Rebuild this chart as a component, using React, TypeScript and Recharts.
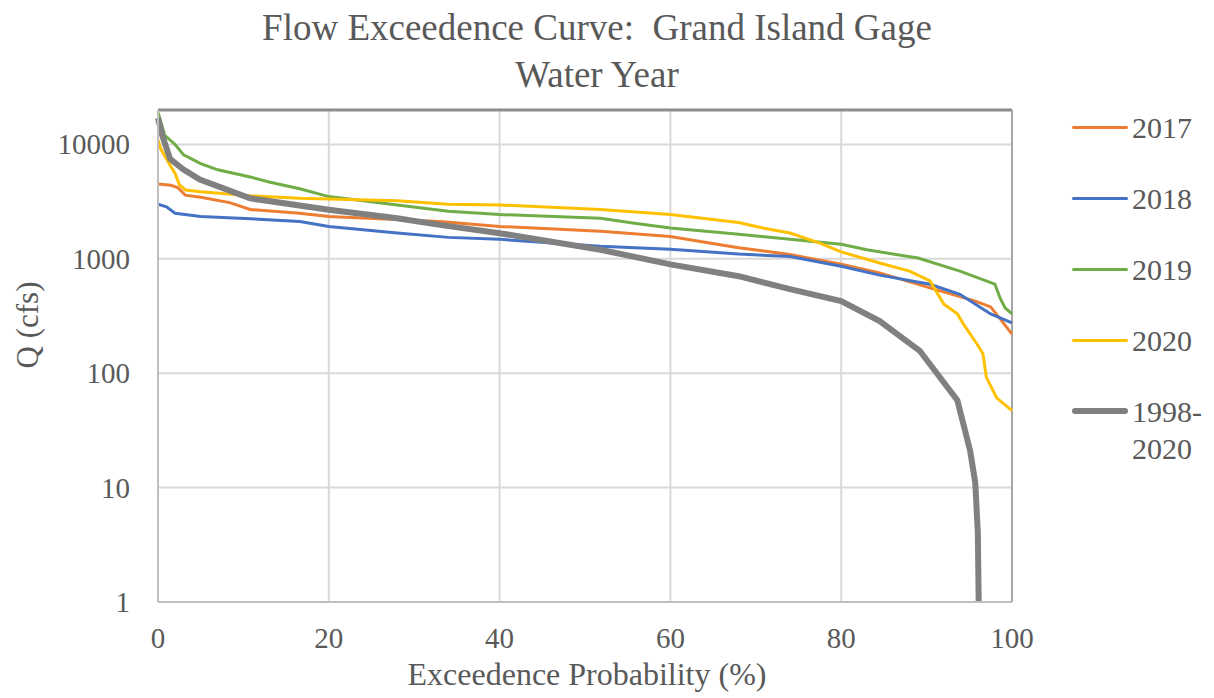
import { LineChart, Line, XAxis, YAxis, CartesianGrid, ReferenceLine, Legend, Label } from 'recharts';

// ── Data (exceedence %, discharge cfs) ──
const exc2017 = [0, 1.5, 2.3, 3.2, 5, 8.4, 10.8, 16.6, 20, 33, 40, 51.8, 60, 63.5, 68, 74, 80, 84.5, 90.4, 95.7, 97.5, 98.6, 100];
const q2017 = [4500, 4400, 4200, 3600, 3450, 3100, 2700, 2500, 2340, 2120, 1920, 1740, 1570, 1420, 1250, 1090, 895, 753, 557, 427, 380, 300, 220];

const exc2018 = [0, 1, 2, 5, 10.8, 16.6, 20, 28, 34, 40, 51.8, 60, 68, 74, 80, 84.5, 90.4, 93.9, 97.5, 100];
const q2018 = [3000, 2850, 2500, 2340, 2240, 2120, 1920, 1680, 1540, 1480, 1290, 1210, 1100, 1050, 860, 720, 600, 490, 330, 275];

const exc2019 = [0, 0.8, 2, 3, 5, 7, 10.8, 13, 16.6, 20, 28, 34, 40, 51.8, 56, 60, 68, 74, 80, 83, 89, 93.9, 98, 98.6, 99.2, 100];
const q2019 = [19000, 12000, 10000, 8100, 6800, 6000, 5200, 4700, 4100, 3500, 2960, 2600, 2440, 2260, 2040, 1860, 1640, 1480, 1340, 1200, 1015, 780, 600, 455, 372, 330];

const exc2020 = [0, 0.3, 1.4, 2, 2.5, 3.2, 5, 10.8, 16.6, 28, 34, 40, 51.8, 60, 68, 70.8, 74, 77.5, 80, 84.5, 88, 90.4, 92, 93.6, 94.3, 95.9, 96.6, 97, 98.2, 100];
const q2020 = [11000, 9200, 6600, 5570, 4460, 4000, 3860, 3560, 3380, 3220, 3000, 2960, 2700, 2440, 2080, 1860, 1680, 1370, 1150, 920, 780, 640, 404, 330, 270, 180, 148, 92, 61, 47];

const excAll = [0, 0.5, 1.4, 2.9, 4.9, 10.8, 20, 28, 33, 40, 51.8, 60, 68, 74, 80, 84.5, 89.2, 93.6, 95.1, 95.7, 96, 96.1];
const qAll = [17000, 12000, 7500, 6100, 4930, 3380, 2690, 2260, 1980, 1676, 1200, 895, 705, 543, 427, 286, 157, 58, 21, 11, 4, 1];

const xTicks = [0, 20, 40, 60, 80, 100];
const yTicks = [1, 10, 100, 1000, 10000];

const toPoints = (xs: number[], ys: number[]) => xs.map((p, i) => ({ p, q: ys[i] }));

const SERIES = [
  { name: '2017', data: toPoints(exc2017, q2017), color: '#ED7D31', width: 3 },
  { name: '2018', data: toPoints(exc2018, q2018), color: '#4472C4', width: 3 },
  { name: '2019', data: toPoints(exc2019, q2019), color: '#70AD47', width: 3 },
  { name: '2020', data: toPoints(exc2020, q2020), color: '#FFC000', width: 3 },
  { name: '1998-2020', data: toPoints(excAll, qAll), color: '#808080', width: 6 },
];

const FONT = "'Liberation Serif', 'Times New Roman', serif";
const TEXT = '#595959';

function XTick({ x, y, payload }: any) {
  return (
    <text x={x} y={y + 46} textAnchor="middle" fontFamily={FONT} fontSize={29} fill={TEXT}>
      {payload.value}
    </text>
  );
}

function YTick({ x, y, payload }: any) {
  return (
    <text x={x - 28} y={y + 10} textAnchor="end" fontFamily={FONT} fontSize={29} fill={TEXT}>
      {payload.value}
    </text>
  );
}

function LegendBox() {
  return (
    <div style={{ fontFamily: FONT, fontSize: 30, color: TEXT }}>
      {SERIES.map(s => (
        <div key={s.name} style={{ display: 'flex', alignItems: 'flex-start', height: 71 }}>
          <span style={{ width: 56, height: s.width, background: s.color, borderRadius: 3, marginTop: 18 - s.width / 2, marginRight: 4 }} />
          <span style={{ lineHeight: '37px', width: 80 }}>
            {s.name === '1998-2020' ? <>1998-<br />2020</> : s.name}
          </span>
        </div>
      ))}
    </div>
  );
}

export default function App() {
  return (
    <div style={{ position: 'absolute', left: 0, top: 0, width: 1214, height: 698, background: '#fff' }}>
      <div style={{ position: 'absolute', left: 0, top: 0, width: 1194, textAlign: 'center', fontFamily: FONT, fontSize: 37, color: TEXT, lineHeight: '47px', paddingTop: 4 }}>
        Flow Exceedence Curve:&nbsp; Grand Island Gage<br />Water Year
      </div>
      <LineChart width={1214} height={698} margin={{ top: 110, right: 202, bottom: 0, left: 0 }}>
        <CartesianGrid stroke="#d9d9d9" strokeWidth={2} />
        <XAxis
          dataKey="p" type="number" domain={[0, 100]} ticks={xTicks} height={96}
          tickLine={false} tickSize={0} tickMargin={0} tick={<XTick />}
          axisLine={{ stroke: '#bfbfbf', strokeWidth: 2 }} allowDuplicatedCategory={false}
        >
          <Label
            content={() => (
              <text x={587} y={685} textAnchor="middle" fontFamily={FONT} fontSize={32} fill={TEXT}>
                Exceedence Probability (%)
              </text>
            )}
          />
        </XAxis>
        <YAxis
          dataKey="q" scale="log" domain={[1, 20000]} ticks={yTicks} allowDataOverflow width={158}
          tickLine={false} tickSize={0} tickMargin={0} tick={<YTick />}
          axisLine={{ stroke: '#bfbfbf', strokeWidth: 2 }}
        >
          <Label
            content={() => (
              <text x={38} y={325} transform="rotate(-90 38 325)" textAnchor="middle" fontFamily={FONT} fontSize={31} fill={TEXT}>
                Q (cfs)
              </text>
            )}
          />
        </YAxis>
        <ReferenceLine y={20000} stroke="#8c8c8c" strokeWidth={3} ifOverflow="visible" />
        <ReferenceLine x={100} stroke="#a6a6a6" strokeWidth={2} />
        {SERIES.map(s => (
          <Line
            key={s.name}
            data={s.data}
            dataKey="q"
            name={s.name}
            type="linear"
            stroke={s.color}
            strokeWidth={s.width}
            dot={false}
            isAnimationActive={false}
          />
        ))}
        <Legend
          layout="vertical" align="center" verticalAlign="middle"
          wrapperStyle={{ position: 'absolute', left: 1072, top: 109, width: 142 }}
          content={() => <LegendBox />}
        />
      </LineChart>
    </div>
  );
}
